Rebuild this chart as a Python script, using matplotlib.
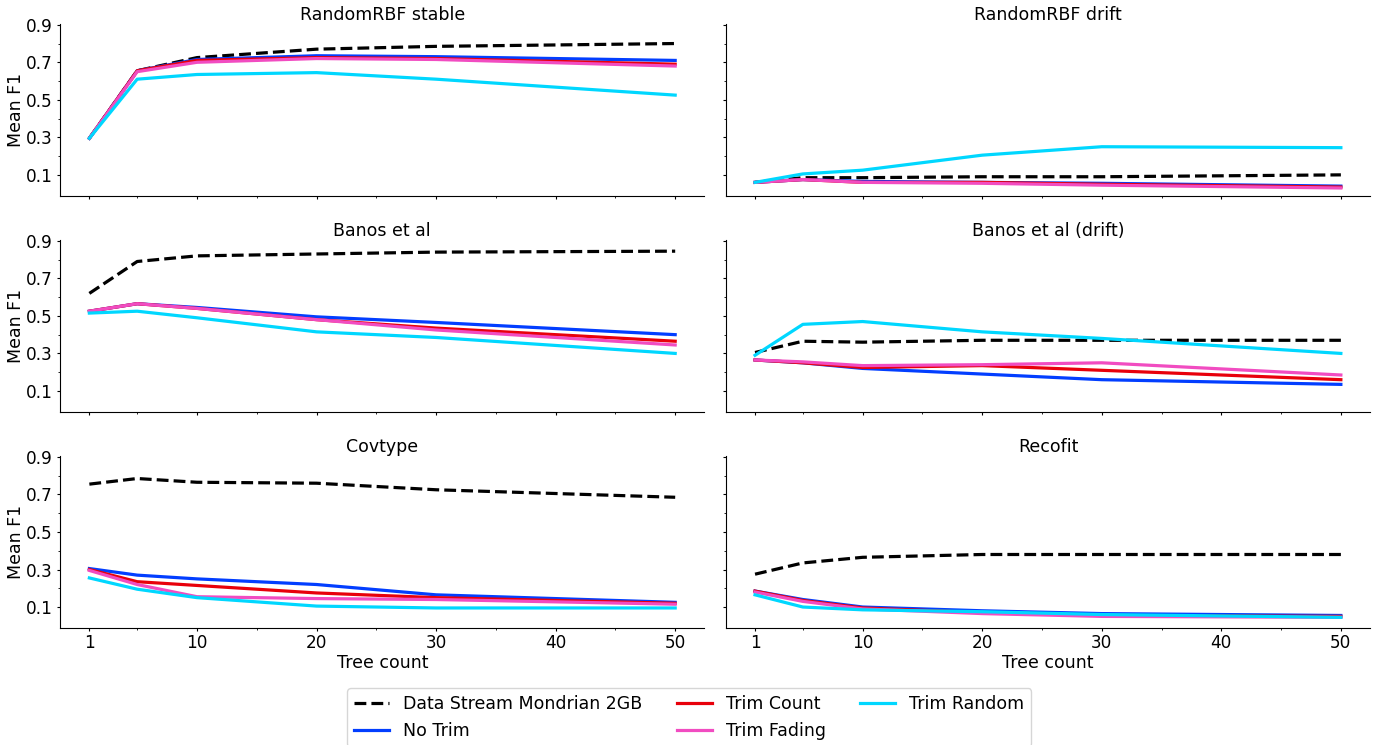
import matplotlib
matplotlib.use("Agg")
import matplotlib.pyplot as plt
from matplotlib.ticker import FixedLocator

# tree counts evaluated
trees = [1, 5, 10, 20, 30, 50]

datasets = ["RandomRBF stable", "RandomRBF drift", "Banos et al",
            "Banos et al (drift)", "Covtype", "Recofit"]

# mean F1 per dataset, one list per method
mondrian = [
    [0.295, 0.655, 0.725, 0.77, 0.785, 0.80],
    [0.06, 0.085, 0.085, 0.09, 0.09, 0.10],
    [0.62, 0.79, 0.82, 0.83, 0.84, 0.845],
    [0.305, 0.365, 0.36, 0.37, 0.37, 0.37],
    [0.755, 0.785, 0.765, 0.76, 0.725, 0.685],
    [0.275, 0.335, 0.365, 0.38, 0.38, 0.38],
]
no_trim = [
    [0.295, 0.655, 0.715, 0.735, 0.73, 0.71],
    [0.06, 0.075, 0.065, 0.06, 0.055, 0.04],
    [0.525, 0.565, 0.545, 0.495, 0.465, 0.40],
    [0.265, 0.25, 0.22, 0.19, 0.16, 0.135],
    [0.305, 0.27, 0.25, 0.22, 0.165, 0.125],
    [0.185, 0.14, 0.10, 0.08, 0.065, 0.055],
]
trim_count = [
    [0.295, 0.655, 0.71, 0.725, 0.72, 0.69],
    [0.06, 0.075, 0.06, 0.06, 0.05, 0.035],
    [0.525, 0.565, 0.54, 0.48, 0.435, 0.365],
    [0.265, 0.25, 0.225, 0.235, 0.21, 0.16],
    [0.30, 0.235, 0.215, 0.175, 0.15, 0.12],
    [0.185, 0.135, 0.095, 0.07, 0.055, 0.05],
]
trim_fading = [
    [0.295, 0.65, 0.70, 0.72, 0.715, 0.68],
    [0.06, 0.075, 0.06, 0.055, 0.045, 0.03],
    [0.525, 0.565, 0.54, 0.48, 0.425, 0.345],
    [0.265, 0.255, 0.235, 0.24, 0.25, 0.185],
    [0.295, 0.22, 0.155, 0.145, 0.14, 0.115],
    [0.18, 0.13, 0.09, 0.065, 0.05, 0.045],
]
trim_random = [
    [0.295, 0.61, 0.635, 0.645, 0.61, 0.525],
    [0.06, 0.105, 0.125, 0.205, 0.25, 0.245],
    [0.515, 0.525, 0.49, 0.415, 0.385, 0.30],
    [0.29, 0.455, 0.47, 0.415, 0.38, 0.30],
    [0.255, 0.195, 0.15, 0.105, 0.095, 0.095],
    [0.165, 0.10, 0.085, 0.075, 0.06, 0.045],
]

methods = [
    ("Data Stream Mondrian 2GB", mondrian, "black", "--"),
    ("No Trim", no_trim, "#023eff", "-"),
    ("Trim Count", trim_count, "#e8000b", "-"),
    ("Trim Fading", trim_fading, "#f14cc1", "-"),
    ("Trim Random", trim_random, "#00d7ff", "-"),
]

FS = 12.5
plt.rcParams["font.size"] = FS

fig, axes = plt.subplots(3, 2, figsize=(13.84, 7.45), dpi=100,
                         sharex=True, sharey=True)
fig.subplots_adjust(left=0.0434, right=0.99, top=0.968, bottom=0.157,
                    wspace=0.033, hspace=0.256)

for i, ax in enumerate(axes.flat):
    for label, values, color, ls in methods:
        ax.plot(trees, values[i], color=color, linestyle=ls, linewidth=2.3,
                label=label)
    ax.set_title(datasets[i], fontsize=FS, pad=3)
    ax.spines["top"].set_visible(False)
    ax.spines["right"].set_visible(False)
    ax.xaxis.set_major_locator(FixedLocator([1, 10, 20, 30, 40, 50]))
    ax.xaxis.set_minor_locator(FixedLocator([5, 15, 25, 35, 45]))
    ax.yaxis.set_major_locator(FixedLocator([0.1, 0.3, 0.5, 0.7, 0.9]))
    ax.yaxis.set_minor_locator(FixedLocator([0.2, 0.4, 0.6, 0.8]))
    ax.tick_params(which="major", labelsize=12.2, length=2.5, pad=2.5)
    ax.tick_params(axis="x", which="major", pad=1.5)
    ax.tick_params(which="minor", length=1.5)

axes[0, 0].set_ylim(-0.012, 0.905)
axes[0, 0].set_xlim(-1.45, 52.45)

for ax in axes[:, 0]:
    ax.set_ylabel("Mean F1", fontsize=FS, labelpad=1)
for ax in axes[-1, :]:
    ax.set_xlabel("Tree count", fontsize=FS, labelpad=2)

handles, labels = axes[0, 0].get_legend_handles_labels()
fig.legend(handles, labels, loc="upper center", bbox_to_anchor=(0.498, 0.088),
           ncol=3, fontsize=FS, columnspacing=2.0)

fig.savefig("out.png", dpi=100)
